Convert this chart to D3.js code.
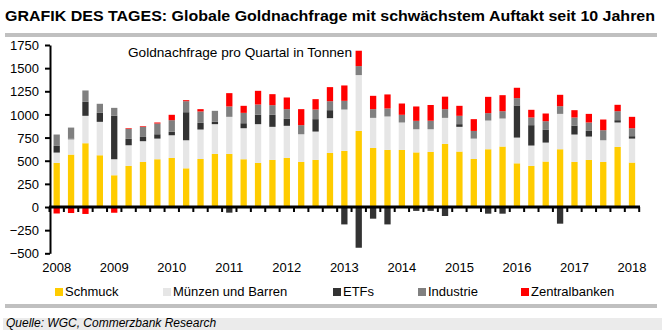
<!DOCTYPE html>
<meta charset="utf-8">
<style>
    body { margin: 0; background: #fff; }
    svg { font-family: "Liberation Sans", Arial, sans-serif; }
    .title { font-weight: bold; font-size: 15px; }
    .axis text { font-size: 13px; fill: #000; }
    .legend text { font-size: 13px; }
    .note { font-size: 13.5px; }
    .source { font-size: 12px; font-style: italic; }
</style>

<svg width="662" height="330"></svg>

<script src="https://d3js.org/d3.v7.min.js"></script>

<script>
// quarterly gold demand in tonnes, 2008 Q1 .. 2018 Q1
var quarters = [];
for (var yr = 2008; yr <= 2018; yr++) {
    for (var q = 1; q <= 4; q++) {
        if (yr === 2018 && q > 1) break;
        quarters.push(yr + " Q" + q);
    }
}

var schmuck = [476, 566, 689, 559, 343, 444, 487, 516, 530, 418, 519, 574,
    574, 516, 476, 509, 530, 487, 509, 584, 606, 822, 638, 617,
    617, 590, 595, 682, 599, 519, 624, 653, 472, 444, 491, 624,
    487, 509, 487, 649, 480];
var muenzen = [112, 166, 296, 361, 173, 223, 224, 223, 245, 303, 318, 321,
    400, 335, 419, 357, 347, 299, 306, 376, 447, 603, 325, 361,
    296, 250, 245, 281, 267, 220, 310, 303, 278, 220, 205, 382,
    296, 252, 234, 264, 259];
var etfs = [72, 5, 151, 97, 469, 69, 46, 47, 37, 303, 72, 25,
    -61, 54, 101, 130, 75, 0, 134, 86, -188, -440, -126, -188,
    -8, -42, -42, -97, 29, -10, -72, -72, 347, 220, 137, -180,
    97, 61, 0, 25, 26];
var industrie = [123, 121, 123, 98, 86, 108, 109, 116, 126, 119, 123, 119,
    112, 112, 111, 104, 105, 98, 104, 97, 94, 97, 94, 86,
    83, 91, 92, 94, 90, 83, 80, 79, 79, 83, 94, 83,
    87, 91, 109, 97, 86];
var zentralbanken = [-70, -65, -75, -5, -62, 7, 7, 11, 58, 11, 25, -5,
    144, 76, 148, 119, 126, 173, 112, 152, 166, 166, 144, 152,
    122, 155, 170, 135, 108, 127, 176, 173, 112, 83, 83, 123,
    79, 93, 115, 69, 123];

var seriesNames = ["Schmuck", "Münzen und Barren", "ETFs", "Industrie", "Zentralbanken"];
var seriesColors = ["#ffcc00", "#e6e6e6", "#333333", "#808080", "#ff0000"];
var yTicks = [-500, -250, 0, 250, 500, 750, 1000, 1250, 1500, 1750];
var years = ["2008", "2009", "2010", "2011", "2012", "2013", "2014", "2015", "2016", "2017", "2018"];

var rows = quarters.map(function(q, i) {
    return { q: q, 0: schmuck[i], 1: muenzen[i], 2: etfs[i], 3: industrie[i], 4: zentralbanken[i] };
});

var stacked = d3.stack()
    .keys([0, 1, 2, 3, 4])
    .offset(d3.stackOffsetDiverging)(rows);

var svg = d3.select("svg");

var x = d3.scaleBand().domain(quarters).range([49.5, 639.2]).padding(0);
var y = d3.scaleLinear().domain([-500, 1750]).range([253.3, 45]);
var barW = 6.3;

// heading and rules
svg.append("text").attr("class", "title")
    .attr("x", 5).attr("y", 21)
    .attr("textLength", 650).attr("lengthAdjust", "spacingAndGlyphs")
    .text("GRAFIK DES TAGES: Globale Goldnachfrage mit schwächstem Auftakt seit 10 Jahren");
svg.append("rect").attr("x", 5).attr("y", 33).attr("width", 652).attr("height", 4).attr("fill", "#c0c0c0");

// bars
svg.append("g").selectAll("g")
    .data(stacked)
    .enter().append("g")
    .attr("fill", function(d) { return seriesColors[d.key]; })
    .selectAll("rect")
    .data(function(d) { return d; })
    .enter().append("rect")
    .attr("x", function(d) { return x(d.data.q) + x.bandwidth() / 2 - barW / 2; })
    .attr("width", barW)
    .attr("y", function(d) { return y(Math.max(d[0], d[1])); })
    .attr("height", function(d) { return Math.abs(y(d[0]) - y(d[1])); });

// y axis
var yAxis = svg.append("g").attr("class", "axis")
    .attr("transform", "translate(50,0)")
    .call(d3.axisLeft(y).tickValues(yTicks).tickFormat(d3.format("d"))
        .tickSize(5).tickPadding(6).tickSizeOuter(0));
yAxis.select(".domain").attr("stroke", "#000").attr("stroke-width", 2);
yAxis.selectAll(".tick line").attr("stroke", "#000").attr("stroke-width", 2);
yAxis.selectAll(".tick text").attr("dy", "0.36em");

// zero line with quarter separators
var x0 = svg.append("g").attr("class", "axis");
x0.selectAll("line.sep")
    .data(quarters.concat(["end"]))
    .enter().append("line")
    .attr("x1", function(d, i) { return x.range()[0] + i * x.step(); })
    .attr("x2", function(d, i) { return x.range()[0] + i * x.step(); })
    .attr("y1", y(0)).attr("y2", y(0) + 5)
    .attr("stroke", "#000").attr("stroke-width", 2);
x0.append("line")
    .attr("x1", 49).attr("x2", 640)
    .attr("y1", y(0)).attr("y2", y(0))
    .attr("stroke", "#000").attr("stroke-width", 3);

// year labels under the first quarter of each year
svg.append("g").attr("class", "axis")
    .selectAll("text")
    .data(years)
    .enter().append("text")
    .attr("x", function(d) { return x(d + " Q1") + x.bandwidth() / 2; })
    .attr("y", 272)
    .attr("text-anchor", "middle")
    .text(function(d) { return d; });

svg.append("text").attr("class", "note")
    .attr("x", 128).attr("y", 57)
    .attr("textLength", 224).attr("lengthAdjust", "spacingAndGlyphs")
    .text("Goldnachfrage pro Quartal in Tonnen");

// legend
var legendX = [55, 163, 333, 418, 521];
var lg = svg.append("g").attr("class", "legend")
    .selectAll("g")
    .data(seriesNames)
    .enter().append("g")
    .attr("transform", function(d, i) { return "translate(" + legendX[i] + ",288)"; });
lg.append("rect").attr("width", 8).attr("height", 8)
    .attr("fill", function(d, i) { return seriesColors[i]; });
lg.append("text").attr("x", 10).attr("y", 7.5).text(function(d) { return d; });

// footer
svg.append("rect").attr("x", 5).attr("y", 304).attr("width", 652).attr("height", 4).attr("fill", "#c0c0c0");
svg.append("rect").attr("x", 3).attr("y", 318).attr("width", 659).attr("height", 12).attr("fill", "#ebebeb");
svg.append("text").attr("class", "source")
    .attr("x", 6).attr("y", 327)
    .text("Quelle: WGC, Commerzbank Research");
</script>
